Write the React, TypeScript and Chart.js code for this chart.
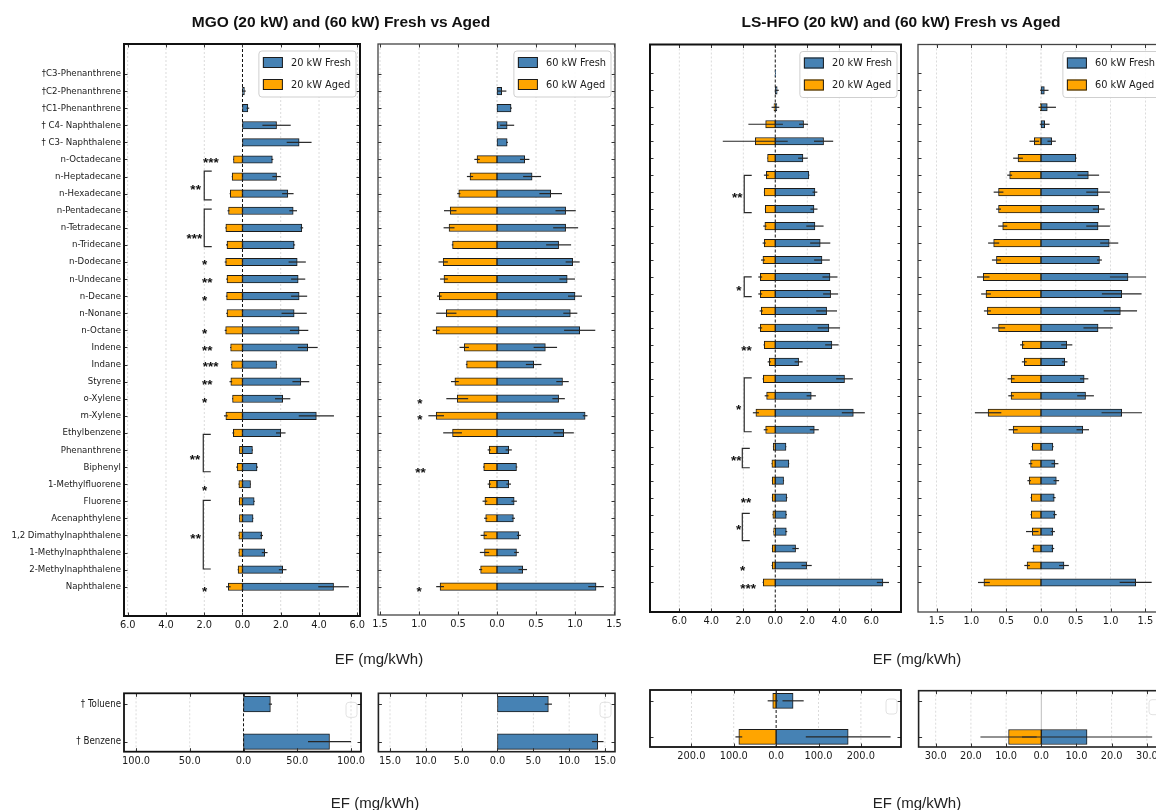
import React, { useEffect, useRef } from 'react';
import { Chart, registerables } from 'chart.js';
Chart.register(...registerables);

// ---------------- data ----------------
const categories = [
  '†C3-Phenanthrene', '†C2-Phenanthrene', '†C1-Phenanthrene', '† C4- Naphthalene', '† C3- Naphthalene',
  'n-Octadecane', 'n-Heptadecane', 'n-Hexadecane', 'n-Pentadecane', 'n-Tetradecane', 'n-Tridecane',
  'n-Dodecane', 'n-Undecane', 'n-Decane', 'n-Nonane', 'n-Octane', 'Indene', 'Indane', 'Styrene',
  'o-Xylene', 'm-Xylene', 'Ethylbenzene', 'Phenanthrene', 'Biphenyl', '1-Methylfluorene', 'Fluorene',
  'Acenaphthylene', '1,2 Dimathylnaphthalene', '1-Methylnaphthalene', '2-Methylnaphthalene', 'Naphthalene',
];

// MGO 20 kW
const mgo20Fresh = [0, 0.1, 0.28, 1.78, 2.96, 1.56, 1.78, 2.37, 2.65, 3.1, 2.7, 2.86, 2.91, 2.96, 2.7, 2.96, 3.41, 1.78, 3.05, 2.1, 3.86, 2.0, 0.52, 0.76, 0.42, 0.61, 0.55, 1.0, 1.16, 2.1, 4.76];
const mgo20FreshErr = [0, 0.07, 0.07, 0.74, 0.65, 0.05, 0.22, 0.3, 0.2, 0.07, 0.05, 0.45, 0.37, 0.42, 0.66, 0.48, 0.52, 0.03, 0.44, 0.4, 0.92, 0.25, 0.03, 0.05, 0.02, 0.03, 0.02, 0.07, 0.15, 0.2, 0.8];
const mgo20Aged = [0, 0, 0, 0, 0, 0.47, 0.54, 0.64, 0.73, 0.87, 0.81, 0.88, 0.81, 0.83, 0.81, 0.88, 0.62, 0.57, 0.61, 0.52, 0.87, 0.48, 0.16, 0.28, 0.19, 0.17, 0.16, 0.19, 0.19, 0.23, 0.74];
const mgo20AgedErr = [0, 0, 0, 0, 0, 0.02, 0.02, 0.03, 0.05, 0.03, 0.05, 0.05, 0.04, 0.04, 0.04, 0.05, 0.03, 0.02, 0.07, 0.03, 0.1, 0.05, 0.02, 0.05, 0.02, 0.02, 0.02, 0.02, 0.02, 0.02, 0.12];

// MGO 60 kW
const mgo60Fresh = [0, 0.06, 0.18, 0.13, 0.13, 0.355, 0.45, 0.688, 0.88, 0.88, 0.79, 0.97, 0.9, 1.0, 0.94, 1.06, 0.62, 0.47, 0.84, 0.79, 1.13, 0.855, 0.15, 0.25, 0.15, 0.22, 0.21, 0.28, 0.25, 0.33, 1.27];
const mgo60FreshErr = [0, 0.06, 0.01, 0.09, 0.01, 0.06, 0.115, 0.145, 0.13, 0.16, 0.16, 0.09, 0.1, 0.09, 0.09, 0.2, 0.15, 0.1, 0.08, 0.08, 0.03, 0.13, 0.04, 0.01, 0.03, 0.035, 0.02, 0.025, 0.03, 0.055, 0.1];
const mgo60Aged = [0, 0, 0, 0, 0, 0.256, 0.346, 0.49, 0.6, 0.615, 0.57, 0.69, 0.68, 0.74, 0.65, 0.78, 0.42, 0.39, 0.54, 0.51, 0.78, 0.57, 0.1, 0.17, 0.1, 0.155, 0.145, 0.17, 0.16, 0.21, 0.73];
const mgo60AgedErr = [0, 0, 0, 0, 0, 0.035, 0.04, 0.02, 0.08, 0.07, 0.01, 0.06, 0.05, 0.03, 0.13, 0.045, 0.06, 0.01, 0.05, 0.14, 0.1, 0.12, 0.02, 0.01, 0.02, 0.03, 0.02, 0.04, 0.06, 0.02, 0.05];

// LS-HFO 20 kW
const hfo20Fresh = [0.02, 0.12, 0.1, 1.77, 3.02, 1.73, 2.1, 2.48, 2.42, 2.48, 2.81, 2.92, 3.42, 3.46, 3.21, 3.35, 3.54, 1.46, 4.33, 2.25, 4.88, 2.44, 0.67, 0.85, 0.52, 0.71, 0.69, 0.69, 1.27, 1.96, 6.73];
const hfo20FreshErr = [0.02, 0.1, 0.15, 0.28, 0.6, 0.3, 0.03, 0.15, 0.22, 0.54, 0.63, 0.49, 0.47, 0.47, 0.65, 0.7, 0.42, 0.25, 0.52, 0.29, 0.72, 0.28, 0.02, 0.02, 0.03, 0.05, 0.04, 0.06, 0.2, 0.32, 0.38];
const hfo20Aged = [0, 0, 0.08, 0.6, 1.25, 0.48, 0.56, 0.69, 0.62, 0.65, 0.69, 0.77, 0.94, 0.94, 0.875, 0.94, 0.69, 0.375, 0.75, 0.54, 1.21, 0.6, 0.125, 0.21, 0.19, 0.19, 0.15, 0.1, 0.19, 0.19, 0.75];
const hfo20AgedErr = [0, 0, 0.15, 1.08, 2.03, 0.02, 0.15, 0.02, 0.03, 0.1, 0.1, 0.12, 0.12, 0.12, 0.1, 0.12, 0.04, 0.1, 0.04, 0.12, 0.19, 0.12, 0.02, 0.02, 0.02, 0.02, 0.02, 0.02, 0.02, 0.04, 0.04];

// LS-HFO 60 kW
const hfo60Fresh = [0, 0.048, 0.09, 0.053, 0.153, 0.5, 0.68, 0.82, 0.83, 0.82, 0.98, 0.84, 1.25, 1.16, 1.14, 0.82, 0.37, 0.34, 0.62, 0.64, 1.16, 0.6, 0.17, 0.2, 0.22, 0.19, 0.2, 0.17, 0.17, 0.33, 1.36];
const hfo60FreshErr = [0, 0.06, 0.125, 0.07, 0.06, 0.01, 0.155, 0.17, 0.085, 0.17, 0.13, 0.035, 0.26, 0.285, 0.24, 0.21, 0.08, 0.04, 0.06, 0.12, 0.29, 0.09, 0.01, 0.05, 0.04, 0.02, 0.025, 0.03, 0.02, 0.07, 0.23];
const hfo60Aged = [0, 0, 0.01, 0, 0.096, 0.33, 0.45, 0.61, 0.61, 0.55, 0.68, 0.64, 0.83, 0.79, 0.77, 0.61, 0.27, 0.24, 0.43, 0.43, 0.76, 0.4, 0.125, 0.15, 0.17, 0.14, 0.14, 0.125, 0.115, 0.2, 0.82];
const hfo60AgedErr = [0, 0, 0, 0, 0.07, 0.07, 0.035, 0.07, 0.035, 0.065, 0.08, 0.065, 0.09, 0.07, 0.05, 0.095, 0.03, 0.035, 0.05, 0.04, 0.19, 0.065, 0.01, 0.025, 0.025, 0.01, 0.01, 0.09, 0.02, 0.04, 0.085];

// bottom panels (Toluene, Benzene)
const bottomCategories = ['† Toluene', '† Benzene'];
const bMgo20Fresh = [25, 80];
const bMgo20FreshErr = [1.5, 20];
const bMgo20Aged = [0, 0];
const bMgo20AgedErr = [0, 0];
const bMgo60Fresh = [7.1, 14.0];
const bMgo60FreshErr = [0.5, 0.8];
const bMgo60Aged = [0, 0];
const bMgo60AgedErr = [0, 0];
const bHfo20Fresh = [40, 170];
const bHfo20FreshErr = [25, 100];
const bHfo20Aged = [8, 88];
const bHfo20AgedErr = [12, 8];
const bHfo60Fresh = [0, 13];
const bHfo60FreshErr = [0, 18.5];
const bHfo60Aged = [0, 9.3];
const bHfo60AgedErr = [0, 8];

// tick values
const ticks20 = [-6, -4, -2, 0, 2, 4, 6];
const ticks60 = [-1.5, -1, -0.5, 0, 0.5, 1, 1.5];
const ticksBMgo20 = [-100, -50, 0, 50, 100];
const ticksBMgo60 = [-15, -10, -5, 0, 5, 10, 15];
const ticksBHfo20 = [-200, -100, 0, 100, 200];
const ticksBHfo60 = [-30, -20, -10, 0, 10, 20, 30];

// significance annotations (x in data units, y in row index)
const mgo20Stars = [
  { t: '***', x: -1.65, y: 4.97 }, { t: '**', x: -2.45, y: 6.6 }, { t: '***', x: -2.51, y: 9.42 },
  { t: '*', x: -1.98, y: 10.98 }, { t: '**', x: -1.84, y: 12.0 }, { t: '*', x: -1.98, y: 13.07 },
  { t: '*', x: -1.98, y: 15.0 }, { t: '**', x: -1.84, y: 16.0 }, { t: '***', x: -1.66, y: 16.95 },
  { t: '**', x: -1.84, y: 18.0 }, { t: '*', x: -1.98, y: 19.04 }, { t: '**', x: -2.48, y: 22.4 },
  { t: '*', x: -1.98, y: 24.2 }, { t: '**', x: -2.45, y: 26.97 }, { t: '*', x: -1.98, y: 30.1 },
];
const mgo20Brackets = [
  { x: -2.0, y0: 5.68, y1: 7.37 }, { x: -2.0, y0: 7.9, y1: 10.1 },
  { x: -2.05, y0: 21.08, y1: 23.27 }, { x: -2.05, y0: 24.95, y1: 28.96 },
];
const mgo60Stars = [
  { t: '*', x: -0.99, y: 19.13 }, { t: '*', x: -0.99, y: 20.03 },
  { t: '**', x: -0.98, y: 23.17 }, { t: '*', x: -1.0, y: 30.1 },
];
const mgo60Brackets: { x: number; y0: number; y1: number }[] = [];
const hfo20Stars = [
  { t: '**', x: -2.38, y: 7.15 }, { t: '*', x: -2.27, y: 12.59 }, { t: '**', x: -1.79, y: 16.15 },
  { t: '*', x: -2.29, y: 19.65 }, { t: '**', x: -2.44, y: 22.65 }, { t: '**', x: -1.83, y: 25.1 },
  { t: '*', x: -2.29, y: 26.72 }, { t: '*', x: -2.04, y: 29.13 }, { t: '***', x: -1.69, y: 30.17 },
];
const hfo20Brackets = [
  { x: -1.94, y0: 6.01, y1: 8.21 }, { x: -1.94, y0: 11.99, y1: 13.16 }, { x: -1.94, y0: 17.94, y1: 21.12 },
  { x: -2.06, y0: 22.1, y1: 23.24 }, { x: -2.06, y0: 25.93, y1: 27.54 },
];
const noStars: { t: string; x: number; y: number }[] = [];
const noBrackets: { x: number; y0: number; y1: number }[] = [];

// ---------------- styling / layout ----------------
const W = 1180;
const H = 810;
const BLUE = '#4682B4';
const ORANGE = '#FFA500';
const EDGE = '#1c1c1c';

type Area = { l: number; t: number; r: number; b: number };
type Panel = {
  area: Area; xMin: number; xMax: number; xTicks: number[]; yMin: number; yMax: number;
  labels: string[]; showLabels: boolean; labelSize: number;
  fresh: number[]; freshErr: number[]; aged: number[]; agedErr: number[];
  freshLabel: string; agedLabel: string; bar: number;
  zeroColor: string; zeroDash: number[]; zeroWidth: number;
  borderColor: string; borderWidth: number; legend: boolean; emptyLegend: boolean;
  stars: { t: string; x: number; y: number }[]; brackets: { x: number; y0: number; y1: number }[];
};

const panels: Panel[] = [
  {
    area: { l: 124, t: 44, r: 360, b: 616 }, xMin: -6.194, xMax: 6.142, xTicks: ticks20, yMin: -1.755, yMax: 31.71,
    labels: categories, showLabels: true, labelSize: 11.4,
    fresh: mgo20Fresh, freshErr: mgo20FreshErr, aged: mgo20Aged, agedErr: mgo20AgedErr,
    freshLabel: '20 kW Fresh', agedLabel: '20 kW Aged', bar: 7.5,
    zeroColor: '#111', zeroDash: [3, 2], zeroWidth: 1, borderColor: '#111', borderWidth: 2,
    legend: true, emptyLegend: false, stars: mgo20Stars, brackets: mgo20Brackets,
  },
  {
    area: { l: 378, t: 44, r: 615, b: 615 }, xMin: -1.526, xMax: 1.513, xTicks: ticks60, yMin: -1.755, yMax: 31.66,
    labels: categories, showLabels: false, labelSize: 11.4,
    fresh: mgo60Fresh, freshErr: mgo60FreshErr, aged: mgo60Aged, agedErr: mgo60AgedErr,
    freshLabel: '60 kW Fresh', agedLabel: '60 kW Aged', bar: 7.5,
    zeroColor: '#c8c8c8', zeroDash: [2, 2], zeroWidth: 0.9, borderColor: '#444', borderWidth: 1.3,
    legend: true, emptyLegend: false, stars: mgo60Stars, brackets: mgo60Brackets,
  },
  {
    area: { l: 650, t: 44.5, r: 901, b: 612 }, xMin: -7.83, xMax: 7.86, xTicks: ticks20, yMin: -1.70, yMax: 31.74,
    labels: categories, showLabels: false, labelSize: 11.4,
    fresh: hfo20Fresh, freshErr: hfo20FreshErr, aged: hfo20Aged, agedErr: hfo20AgedErr,
    freshLabel: '20 kW Fresh', agedLabel: '20 kW Aged', bar: 7.5,
    zeroColor: '#111', zeroDash: [3, 2], zeroWidth: 1, borderColor: '#111', borderWidth: 2,
    legend: true, emptyLegend: false, stars: hfo20Stars, brackets: hfo20Brackets,
  },
  {
    area: { l: 918, t: 44.5, r: 1164, b: 612 }, xMin: -1.767, xMax: 1.767, xTicks: ticks60, yMin: -1.70, yMax: 31.74,
    labels: categories, showLabels: false, labelSize: 11.4,
    fresh: hfo60Fresh, freshErr: hfo60FreshErr, aged: hfo60Aged, agedErr: hfo60AgedErr,
    freshLabel: '60 kW Fresh', agedLabel: '60 kW Aged', bar: 7.5,
    zeroColor: '#c8c8c8', zeroDash: [2, 2], zeroWidth: 0.9, borderColor: '#444', borderWidth: 1.3,
    legend: true, emptyLegend: false, stars: noStars, brackets: noBrackets,
  },
  {
    area: { l: 124, t: 693.3, r: 361, b: 751.7 }, xMin: -111.2, xMax: 109.3, xTicks: ticksBMgo20, yMin: -0.29, yMax: 1.27,
    labels: bottomCategories, showLabels: true, labelSize: 11.5,
    fresh: bMgo20Fresh, freshErr: bMgo20FreshErr, aged: bMgo20Aged, agedErr: bMgo20AgedErr,
    freshLabel: '20 kW Fresh', agedLabel: '20 kW Aged', bar: 15.5,
    zeroColor: '#111', zeroDash: [3, 2], zeroWidth: 1, borderColor: '#111', borderWidth: 1.8,
    legend: false, emptyLegend: true, stars: noStars, brackets: noBrackets,
  },
  {
    area: { l: 378.4, t: 693.3, r: 615, b: 751.7 }, xMin: -16.62, xMax: 16.4, xTicks: ticksBMgo60, yMin: -0.29, yMax: 1.27,
    labels: bottomCategories, showLabels: false, labelSize: 11.5,
    fresh: bMgo60Fresh, freshErr: bMgo60FreshErr, aged: bMgo60Aged, agedErr: bMgo60AgedErr,
    freshLabel: '60 kW Fresh', agedLabel: '60 kW Aged', bar: 15.5,
    zeroColor: '#c8c8c8', zeroDash: [2, 2], zeroWidth: 0.9, borderColor: '#222', borderWidth: 1.6,
    legend: false, emptyLegend: true, stars: noStars, brackets: noBrackets,
  },
  {
    area: { l: 650, t: 690, r: 901, b: 747 }, xMin: -297.6, xMax: 294.6, xTicks: ticksBHfo20, yMin: -0.3, yMax: 1.28,
    labels: bottomCategories, showLabels: false, labelSize: 11.5,
    fresh: bHfo20Fresh, freshErr: bHfo20FreshErr, aged: bHfo20Aged, agedErr: bHfo20AgedErr,
    freshLabel: '20 kW Fresh', agedLabel: '20 kW Aged', bar: 15,
    zeroColor: '#111', zeroDash: [3, 2], zeroWidth: 1, borderColor: '#111', borderWidth: 1.8,
    legend: false, emptyLegend: true, stars: noStars, brackets: noBrackets,
  },
  {
    area: { l: 918.6, t: 690.7, r: 1164, b: 747 }, xMin: -34.87, xMax: 34.87, xTicks: ticksBHfo60, yMin: -0.3, yMax: 1.28,
    labels: bottomCategories, showLabels: false, labelSize: 11.5,
    fresh: bHfo60Fresh, freshErr: bHfo60FreshErr, aged: bHfo60Aged, agedErr: bHfo60AgedErr,
    freshLabel: '60 kW Fresh', agedLabel: '60 kW Aged', bar: 15,
    zeroColor: '#bdbdbd', zeroDash: [], zeroWidth: 1, borderColor: '#222', borderWidth: 1.6,
    legend: false, emptyLegend: true, stars: noStars, brackets: noBrackets,
  },
];

type Fonts = { narrow: string; k: number };

function fontAvailable(name: string): boolean {
  const ctx = document.createElement('canvas').getContext('2d');
  if (!ctx) return false;
  const s = 'mmmmmmmmmmlli1WQ@#abcxyz';
  for (const base of ['monospace', 'serif']) {
    ctx.font = `40px ${base}`;
    const w0 = ctx.measureText(s).width;
    ctx.font = `40px "${name}", ${base}`;
    const w1 = ctx.measureText(s).width;
    if (Math.abs(w0 - w1) > 0.5) return true;
  }
  return false;
}

function pickFonts(): Fonts {
  if (fontAvailable('Liberation Sans Narrow')) return { narrow: '"Liberation Sans Narrow"', k: 1 };
  if (fontAvailable('DejaVu Sans Condensed')) return { narrow: '"DejaVu Sans Condensed"', k: 0.84 };
  return { narrow: '"Liberation Sans", Arial', k: 0.82 };
}

function makeDecor(p: Panel, fonts: Fonts) {
  return {
    id: 'decor',
    beforeDatasetsDraw(chart: any) {
      const ctx = chart.ctx as CanvasRenderingContext2D;
      const a = chart.chartArea;
      const xs = chart.scales.x;
      ctx.save();
      ctx.beginPath();
      ctx.rect(a.left, a.top, a.right - a.left, a.bottom - a.top);
      ctx.clip();
      ctx.lineWidth = 0.8;
      ctx.strokeStyle = '#d2d2d2';
      ctx.setLineDash([2, 2]);
      for (const v of p.xTicks) {
        if (v === 0) continue;
        const px = xs.getPixelForValue(v);
        ctx.beginPath();
        ctx.moveTo(px, a.top);
        ctx.lineTo(px, a.bottom);
        ctx.stroke();
      }
      const z = xs.getPixelForValue(0);
      ctx.strokeStyle = p.zeroColor;
      ctx.lineWidth = p.zeroWidth;
      ctx.setLineDash(p.zeroDash);
      ctx.beginPath();
      ctx.moveTo(z, a.top);
      ctx.lineTo(z, a.bottom);
      ctx.stroke();
      ctx.restore();
    },
    afterDatasetsDraw(chart: any) {
      const ctx = chart.ctx as CanvasRenderingContext2D;
      const a = chart.chartArea;
      const xs = chart.scales.x;
      const ys = chart.scales.y;
      ctx.save();
      // error bars
      ctx.strokeStyle = '#262626';
      ctx.lineWidth = 1.2;
      const series: [number[], number[], number][] = [[p.fresh, p.freshErr, 1], [p.aged, p.agedErr, -1]];
      for (const [vals, errs, sgn] of series) {
        vals.forEach((v, i) => {
          const e = errs[i];
          if (!e) return;
          const c = sgn * v;
          const py = ys.getPixelForValue(i);
          ctx.beginPath();
          ctx.moveTo(xs.getPixelForValue(c - e), py);
          ctx.lineTo(xs.getPixelForValue(c + e), py);
          ctx.stroke();
        });
      }
      // tick marks (inward)
      ctx.strokeStyle = '#333';
      ctx.lineWidth = 1;
      const tl = 3.5;
      p.labels.forEach((_, i) => {
        const py = Math.round(ys.getPixelForValue(i)) + 0.5;
        ctx.beginPath();
        ctx.moveTo(a.left, py); ctx.lineTo(a.left + tl, py);
        ctx.moveTo(a.right - tl, py); ctx.lineTo(a.right, py);
        ctx.stroke();
      });
      for (const v of p.xTicks) {
        const px = Math.round(xs.getPixelForValue(v)) + 0.5;
        ctx.beginPath();
        ctx.moveTo(px, a.top); ctx.lineTo(px, a.top + tl);
        ctx.moveTo(px, a.bottom); ctx.lineTo(px, a.bottom - tl);
        ctx.stroke();
      }
      // border
      ctx.strokeStyle = p.borderColor;
      ctx.lineWidth = p.borderWidth;
      ctx.strokeRect(a.left, a.top, a.right - a.left, a.bottom - a.top);
      // brackets
      ctx.strokeStyle = '#2a2a2a';
      ctx.lineWidth = 1.2;
      for (const b of p.brackets) {
        const px = xs.getPixelForValue(b.x);
        const y0 = ys.getPixelForValue(b.y0);
        const y1 = ys.getPixelForValue(b.y1);
        ctx.beginPath();
        ctx.moveTo(px + 7.5, y0); ctx.lineTo(px, y0); ctx.lineTo(px, y1); ctx.lineTo(px + 7.5, y1);
        ctx.stroke();
      }
      // stars
      const sz = 13.5;
      ctx.font = `bold ${sz}px "Liberation Sans", Arial`;
      ctx.fillStyle = '#111';
      ctx.textAlign = 'center';
      ctx.textBaseline = 'alphabetic';
      for (const s of p.stars) {
        ctx.fillText(s.t, xs.getPixelForValue(s.x), ys.getPixelForValue(s.y) + 0.56 * sz);
      }
      // legend
      if (p.legend) {
        const fs = 13 * fonts.k;
        ctx.font = `${fs}px ${fonts.narrow}`;
        const items: [string, string][] = [[p.freshLabel, BLUE], [p.agedLabel, ORANGE]];
        const tw = Math.max(...items.map(([t]) => ctx.measureText(t).width));
        const w = 4 + 20 + 8 + tw + 5;
        const h = 46;
        const right = a.right - 4;
        const top = a.top + 7;
        const left = right - w;
        ctx.beginPath();
        (ctx as any).roundRect(left, top, w, h, 3);
        ctx.fillStyle = 'rgba(255,255,255,0.9)';
        ctx.fill();
        ctx.strokeStyle = '#cfcfcf';
        ctx.lineWidth = 1;
        ctx.stroke();
        items.forEach(([t, c], k) => {
          const sy = top + 6 + k * 22;
          ctx.fillStyle = c;
          ctx.fillRect(left + 4, sy, 20, 11);
          ctx.strokeStyle = EDGE;
          ctx.lineWidth = 1;
          ctx.strokeRect(left + 4.5, sy + 0.5, 19, 10);
          ctx.fillStyle = '#1a1a1a';
          ctx.textAlign = 'left';
          ctx.textBaseline = 'middle';
          ctx.fillText(t, left + 32, sy + 6);
        });
      }
      if (p.emptyLegend) {
        ctx.beginPath();
        (ctx as any).roundRect(a.right - 15, a.top + 9, 11, 15, 3);
        ctx.strokeStyle = '#e2e2e2';
        ctx.lineWidth = 1;
        ctx.stroke();
      }
      ctx.restore();
    },
  };
}

function makeChart(canvas: HTMLCanvasElement, p: Panel, fonts: Fonts) {
  const yW = p.showLabels ? p.area.l : 10;
  const xH = 30;
  const idx = p.labels.map((_, i) => i);
  const tickFont = { family: fonts.narrow, size: 13 * fonts.k };
  const cfg: any = {
    type: 'bar',
    data: {
      datasets: [
        {
          label: p.freshLabel, data: idx.map((i) => ({ x: p.fresh[i], y: i })),
          backgroundColor: BLUE, borderColor: EDGE, borderWidth: 1, borderSkipped: false,
          barThickness: p.bar, grouped: false,
        },
        {
          label: p.agedLabel, data: idx.map((i) => ({ x: -p.aged[i], y: i })),
          backgroundColor: ORANGE, borderColor: EDGE, borderWidth: 1, borderSkipped: false,
          barThickness: p.bar, grouped: false,
        },
      ],
    },
    options: {
      indexAxis: 'y',
      responsive: false,
      animation: false,
      devicePixelRatio: 1,
      events: [],
      layout: { padding: { left: p.area.l - yW, top: p.area.t, right: W - p.area.r, bottom: H - p.area.b - xH } },
      plugins: { legend: { display: false }, tooltip: { enabled: false }, title: { display: false } },
      scales: {
        x: {
          type: 'linear', position: 'bottom', min: p.xMin, max: p.xMax, offset: false,
          grid: { display: false, drawTicks: false, tickLength: 0, offset: false },
          border: { display: false },
          afterBuildTicks: (s: any) => { s.ticks = p.xTicks.map((v) => ({ value: v })); },
          afterFit: (s: any) => { s.height = xH; s.paddingLeft = 0; s.paddingRight = 0; },
          ticks: {
            callback: (v: number) => Math.abs(v).toFixed(1), font: tickFont, color: '#1a1a1a',
            padding: 3, maxRotation: 0, minRotation: 0, autoSkip: false,
          },
        },
        y: {
          type: 'linear', position: 'left', reverse: true, min: p.yMin, max: p.yMax, offset: false,
          grid: { display: false, drawTicks: false, tickLength: 0, offset: false },
          border: { display: false },
          afterBuildTicks: (s: any) => { s.ticks = idx.map((v) => ({ value: v })); },
          afterFit: (s: any) => { s.width = yW; s.paddingTop = 0; s.paddingBottom = 0; },
          ticks: {
            display: p.showLabels, autoSkip: false, padding: 3, color: '#1a1a1a',
            font: { family: fonts.narrow, size: p.labelSize * fonts.k },
            callback: (v: number) => p.labels[v] ?? '',
          },
        },
      },
    },
    plugins: [makeDecor(p, fonts)],
  };
  return new Chart(canvas, cfg);
}

const titleStyle: React.CSSProperties = {
  position: 'absolute', transform: 'translate(-50%, -50%)', whiteSpace: 'nowrap',
  font: 'bold 15.5px "Liberation Sans", Arial, sans-serif', color: '#111',
};
const efStyle: React.CSSProperties = {
  position: 'absolute', transform: 'translate(-50%, -50%)', whiteSpace: 'nowrap',
  font: '15px "Liberation Sans", Arial, sans-serif', color: '#222',
};

export default function App() {
  const refs = useRef<(HTMLCanvasElement | null)[]>([]);
  useEffect(() => {
    const fonts = pickFonts();
    const charts = panels.map((p, i) => makeChart(refs.current[i] as HTMLCanvasElement, p, fonts));
    return () => charts.forEach((c) => c.destroy());
  }, []);
  return (
    <div style={{ position: 'fixed', left: 0, top: 0, width: 1156, height: 810, overflow: 'hidden', background: '#fff' }}>
      {panels.map((_, i) => (
        <canvas
          key={i}
          ref={(el) => { refs.current[i] = el; }}
          width={W}
          height={H}
          style={{ position: 'absolute', left: 0, top: 0, width: W, height: H }}
        />
      ))}
      <div style={{ ...titleStyle, left: 341, top: 22 }}>MGO (20 kW) and (60 kW) Fresh vs Aged</div>
      <div style={{ ...titleStyle, left: 901, top: 22 }}>LS-HFO (20 kW) and (60 kW) Fresh vs Aged</div>
      <div style={{ ...efStyle, left: 379, top: 658 }}>EF (mg/kWh)</div>
      <div style={{ ...efStyle, left: 917, top: 658 }}>EF (mg/kWh)</div>
      <div style={{ ...efStyle, left: 375, top: 802 }}>EF (mg/kWh)</div>
      <div style={{ ...efStyle, left: 917, top: 802 }}>EF (mg/kWh)</div>
    </div>
  );
}
